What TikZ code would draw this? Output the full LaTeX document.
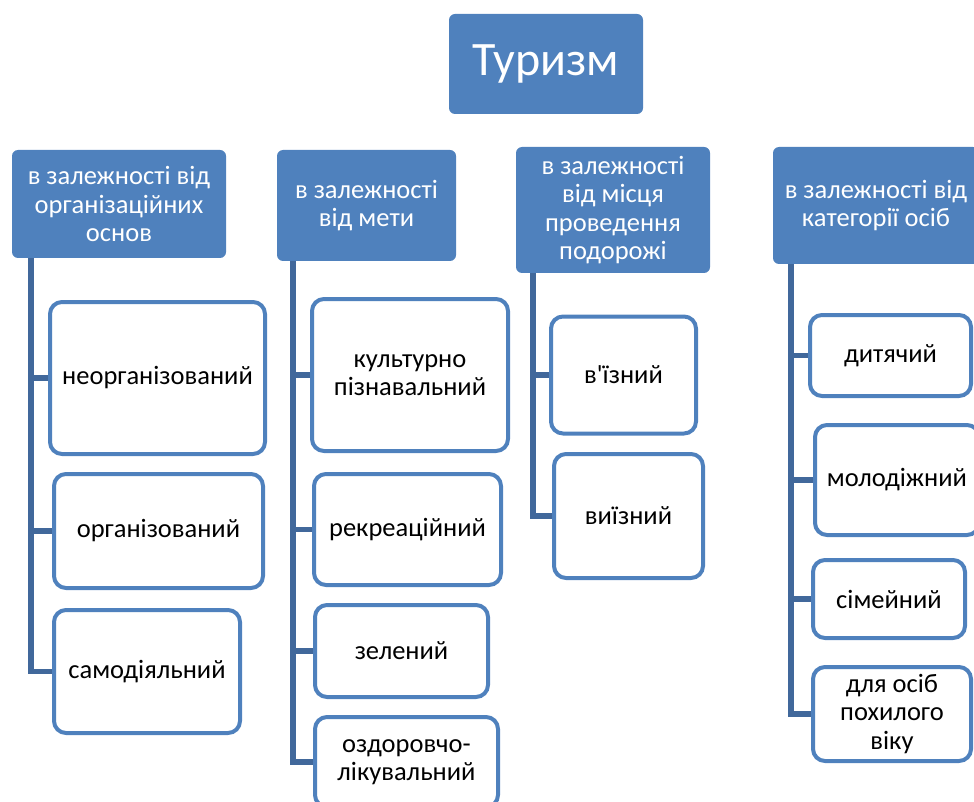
\documentclass[tikz,border=0pt]{standalone}
\usepackage{fontspec}
\setmainfont{Carlito}
\newfontfamily\plainfont{Carlito}[Ligatures=ResetAll]
\definecolor{hblue}{HTML}{4F81BD}
\definecolor{lblue}{HTML}{41689B}
\tikzset{
  hbox/.style={rectangle, fill=hblue, draw=none, rounded corners=6pt, text=white,
    align=center, inner sep=2pt, font=\fontsize{26.5}{28.5}\selectfont},
  cbox/.style={rectangle, fill=white, draw=hblue, line width=4pt, rounded corners=12pt,
    text=black, align=center, inner sep=2pt, font=\fontsize{26.5}{28.5}\selectfont},
  conn/.style={draw=lblue, line width=5.5pt},
}
\begin{document}
\begin{tikzpicture}[x=1pt,y=-1pt]
\useasboundingbox (0,0) rectangle (974,802);
% top
\node[hbox, minimum width=194pt, minimum height=100pt, font=\fontsize{48}{52}\selectfont] (top) at (546,64) {Туризм};
% headers
\node[hbox, minimum width=214pt, minimum height=108pt] (h1) at (119,204) {в залежності від\\організаційних\\основ};
\node[hbox, minimum width=179pt, minimum height=111pt] (h2) at (366.5,205.5) {в залежності\\від мети};
\node[hbox, minimum width=194pt, minimum height=126pt] (h3) at (613,210) {в залежності\\від місця\\проведення\\подорожі};
\node[hbox, minimum width=206pt, minimum height=117pt] (h4) at (876,205.5) {в залежності від\\категорії осіб};
% column 1
\node[cbox, minimum width=215pt, minimum height=152pt] (a1) at (157.5,378) {неорганізований};
\node[cbox, minimum width=209pt, minimum height=114pt] (a2) at (158.5,531) {організований};
\node[cbox, minimum width=186pt, minimum height=123pt] (a3) at (147,671.5) {самодіяльний};
% column 2
\node[cbox, minimum width=196pt, minimum height=152pt] (b1) at (410,375) {культурно\\пізнавальний};
\node[cbox, minimum width=187pt, minimum height=111pt] (b2) at (407.5,529.5) {рекреаційний};
\node[cbox, minimum width=173pt, minimum height=92pt] (b3) at (401.5,651) {зелений};
\node[cbox, minimum width=183pt, minimum height=90pt] (b4) at (406.5,762) {оздоровчо-\\лікувальний};
% column 3
\node[cbox, minimum width=145pt, minimum height=117pt] (c1) at (623.5,375) {в{\plainfont\char"0027}їзний};
\node[cbox, minimum width=149pt, minimum height=124pt] (c2) at (628.5,516) {виїзний};
% column 4
\node[cbox, minimum width=161pt, minimum height=81pt] (d1) at (890.5,355.5) {дитячий};
\node[cbox, minimum width=164pt, minimum height=110pt] (d2) at (897,480) {молодіжний};
\node[cbox, minimum width=152pt, minimum height=78pt] (d3) at (889,599) {сімейний};
\node[cbox, minimum width=158pt, minimum height=94pt] (d4) at (892,714) {для осіб\\похилого\\віку};
% connectors
\draw[conn] (h1.south -| 31,0) |- (a1.west);
\draw[conn] (h1.south -| 31,0) |- (a2.west);
\draw[conn] (h1.south -| 31,0) |- (a3.west);
\draw[conn] (h2.south -| 293,0) |- (b1.west);
\draw[conn] (h2.south -| 293,0) |- (b2.west);
\draw[conn] (h2.south -| 293,0) |- (b3.west);
\draw[conn] (h2.south -| 293,0) |- (b4.west);
\draw[conn] (h3.south -| 533,0) |- (c1.west);
\draw[conn] (h3.south -| 533,0) |- (c2.west);
\draw[conn] (h4.south -| 791,0) |- (d1.west);
\draw[conn] (h4.south -| 791,0) |- (d2.west);
\draw[conn] (h4.south -| 791,0) |- (d3.west);
\draw[conn] (h4.south -| 791,0) |- (d4.west);
\end{tikzpicture}
\end{document}
